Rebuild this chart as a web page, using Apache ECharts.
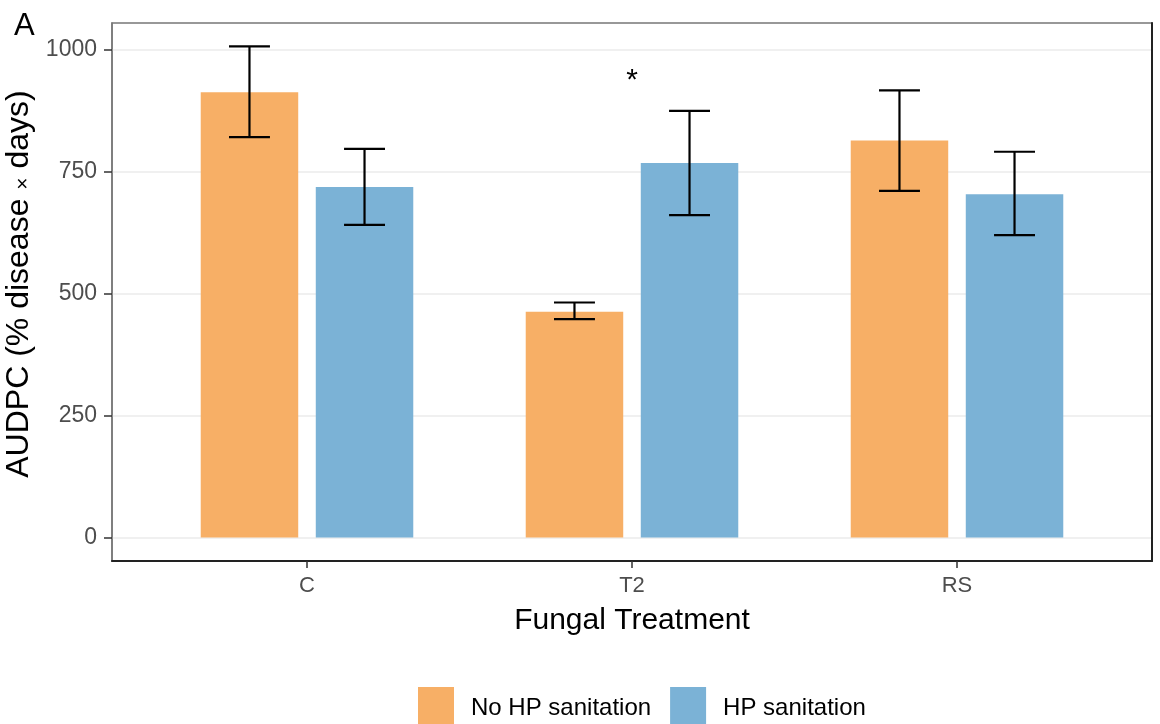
<!DOCTYPE html>
<html>
<head>
<meta charset="utf-8">
<script src="https://cdn.jsdelivr.net/npm/echarts@6/dist/echarts.min.js"></script>
<style>
  html, body { margin: 0; padding: 0; background: #fff; }
  #chart { width: 1160px; height: 724px; }
</style>
</head>
<body>
<div id="chart"></div>
<script>
// data
var categories = ['C', 'T2', 'RS'];
var noHpMean = [913, 463, 814];
var noHpLow = [821, 448, 711];
var noHpHigh = [1007, 482, 917];
var hpMean = [719, 768, 704];
var hpLow = [641, 661, 620];
var hpHigh = [797, 875, 791];
var yTicks = [0, 250, 500, 750, 1000];
var starCategory = 2;   // '*' above T2
var starValue = 936;

var barW = 0.3;      // bar width in category units
var dodge = 0.177;   // centre offset of each bar
var capW = 0.126;    // error bar cap width

var font = "'Liberation Sans', Arial, sans-serif";

function rows(means) {
  return categories.map(function (c, k) { return [k + 1, means[k]]; });
}
function errRows(low, high) {
  return categories.map(function (c, k) { return [k + 1, low[k], high[k]]; });
}

function barRender(offset) {
  return function (params, api) {
    var x = api.value(0) + offset;
    var p1 = api.coord([x - barW / 2, api.value(1)]);
    var p2 = api.coord([x + barW / 2, 0]);
    return {
      type: 'rect',
      shape: { x: p1[0], y: p1[1], width: p2[0] - p1[0], height: p2[1] - p1[1] },
      style: api.style()
    };
  };
}

function errRender(offset) {
  return function (params, api) {
    var x = api.value(0) + offset;
    var lo = api.coord([x, api.value(1)]);
    var hi = api.coord([x, api.value(2)]);
    var l1 = api.coord([x - capW / 2, api.value(1)]);
    var r1 = api.coord([x + capW / 2, api.value(1)]);
    var l2 = api.coord([x - capW / 2, api.value(2)]);
    var r2 = api.coord([x + capW / 2, api.value(2)]);
    var st = { stroke: '#000', lineWidth: 2.2 };
    return {
      type: 'group',
      children: [
        { type: 'line', shape: { x1: lo[0], y1: lo[1], x2: hi[0], y2: hi[1] }, style: st },
        { type: 'line', shape: { x1: l1[0], y1: l1[1], x2: r1[0], y2: r1[1] }, style: st },
        { type: 'line', shape: { x1: l2[0], y1: l2[1], x2: r2[0], y2: r2[1] }, style: st }
      ]
    };
  };
}

var chart = echarts.init(document.getElementById('chart'));
chart.setOption({
  animation: false,
  title: {
    text: 'A', left: 9, top: 6,
    textStyle: { fontFamily: font, fontSize: 31, fontWeight: 'normal', color: '#000' }
  },
  legend: {
    data: ['No HP sanitation', 'HP sanitation'],
    left: 413, top: 682,
    icon: 'rect',
    itemWidth: 36, itemHeight: 42,
    itemGap: 19,
    textStyle: { fontFamily: font, fontSize: 24, color: '#000', padding: [0, 0, 0, 12] }
  },
  grid: {
    left: 112, right: 8, top: 23, bottom: 163,
    containLabel: false, outerBoundsMode: 'none',
    show: true, borderColor: '#777', borderWidth: 1.5
  },
  xAxis: {
    type: 'value', min: 0.4, max: 3.6,
    name: 'Fungal Treatment', nameLocation: 'middle', nameGap: 45,
    nameTextStyle: { fontFamily: font, fontSize: 30, color: '#000' },
    axisLine: { show: true, onZero: false, lineStyle: { color: '#222', width: 2 } },
    axisTick: { show: true, length: 7, customValues: [1, 2, 3], lineStyle: { color: '#333', width: 1.5 } },
    axisLabel: {
      customValues: [1, 2, 3], margin: 14,
      formatter: function (v) { return categories[Math.round(v) - 1]; },
      fontFamily: font, fontSize: 22, color: '#4d4d4d'
    },
    splitLine: { show: false }
  },
  yAxis: [{
    type: 'value', min: -48, max: 1055,
    name: '{a|AUDPC (% disease }{b|×}{a| days)}',
    nameLocation: 'middle', nameGap: 73, nameRotate: 90,
    nameTextStyle: {
      padding: [0, 0, 0, 16],
      rich: {
        a: { fontFamily: font, fontSize: 32, color: '#000' },
        b: { fontFamily: font, fontSize: 21, color: '#000', padding: [8, 0, 0, 0] }
      }
    },
    axisLine: { show: true, lineStyle: { color: '#777', width: 1.5 } },
    axisTick: { show: true, length: 8, customValues: yTicks, lineStyle: { color: '#333', width: 1.5 } },
    axisLabel: {
      customValues: yTicks, margin: 15,
      formatter: function (v) { return String(v); },
      fontFamily: font, fontSize: 23, color: '#4d4d4d'
    },
    splitLine: { show: true, lineStyle: { color: '#ebebeb', width: 1.5 } }
  }, {
    type: 'value', min: -48, max: 1055, position: 'right',
    axisLine: { show: true, lineStyle: { color: '#222', width: 2 } },
    axisTick: { show: false }, axisLabel: { show: false }, splitLine: { show: false }
  }],
  series: [
    {
      name: 'No HP sanitation', type: 'custom',
      itemStyle: { color: '#F7AF66' },
      renderItem: barRender(-dodge),
      encode: { x: 0, y: 1 },
      data: rows(noHpMean)
    },
    {
      name: 'HP sanitation', type: 'custom',
      itemStyle: { color: '#7BB2D6' },
      renderItem: barRender(dodge),
      encode: { x: 0, y: 1 },
      data: rows(hpMean)
    },
    {
      name: 'err1', type: 'custom', z: 5,
      renderItem: errRender(-dodge),
      encode: { x: 0, y: [1, 2] },
      data: errRows(noHpLow, noHpHigh)
    },
    {
      name: 'err2', type: 'custom', z: 5,
      renderItem: errRender(dodge),
      encode: { x: 0, y: [1, 2] },
      data: errRows(hpLow, hpHigh)
    },
    {
      name: 'sig', type: 'custom', z: 5,
      renderItem: function (params, api) {
        var p = api.coord([api.value(0), api.value(1)]);
        return {
          type: 'text', x: p[0], y: p[1],
          style: { text: '*', fontFamily: font, fontSize: 30, fill: '#000', align: 'center', verticalAlign: 'middle' }
        };
      },
      encode: { x: 0, y: 1 },
      data: [[starCategory, starValue]]
    }
  ]
});
</script>
</body>
</html>
